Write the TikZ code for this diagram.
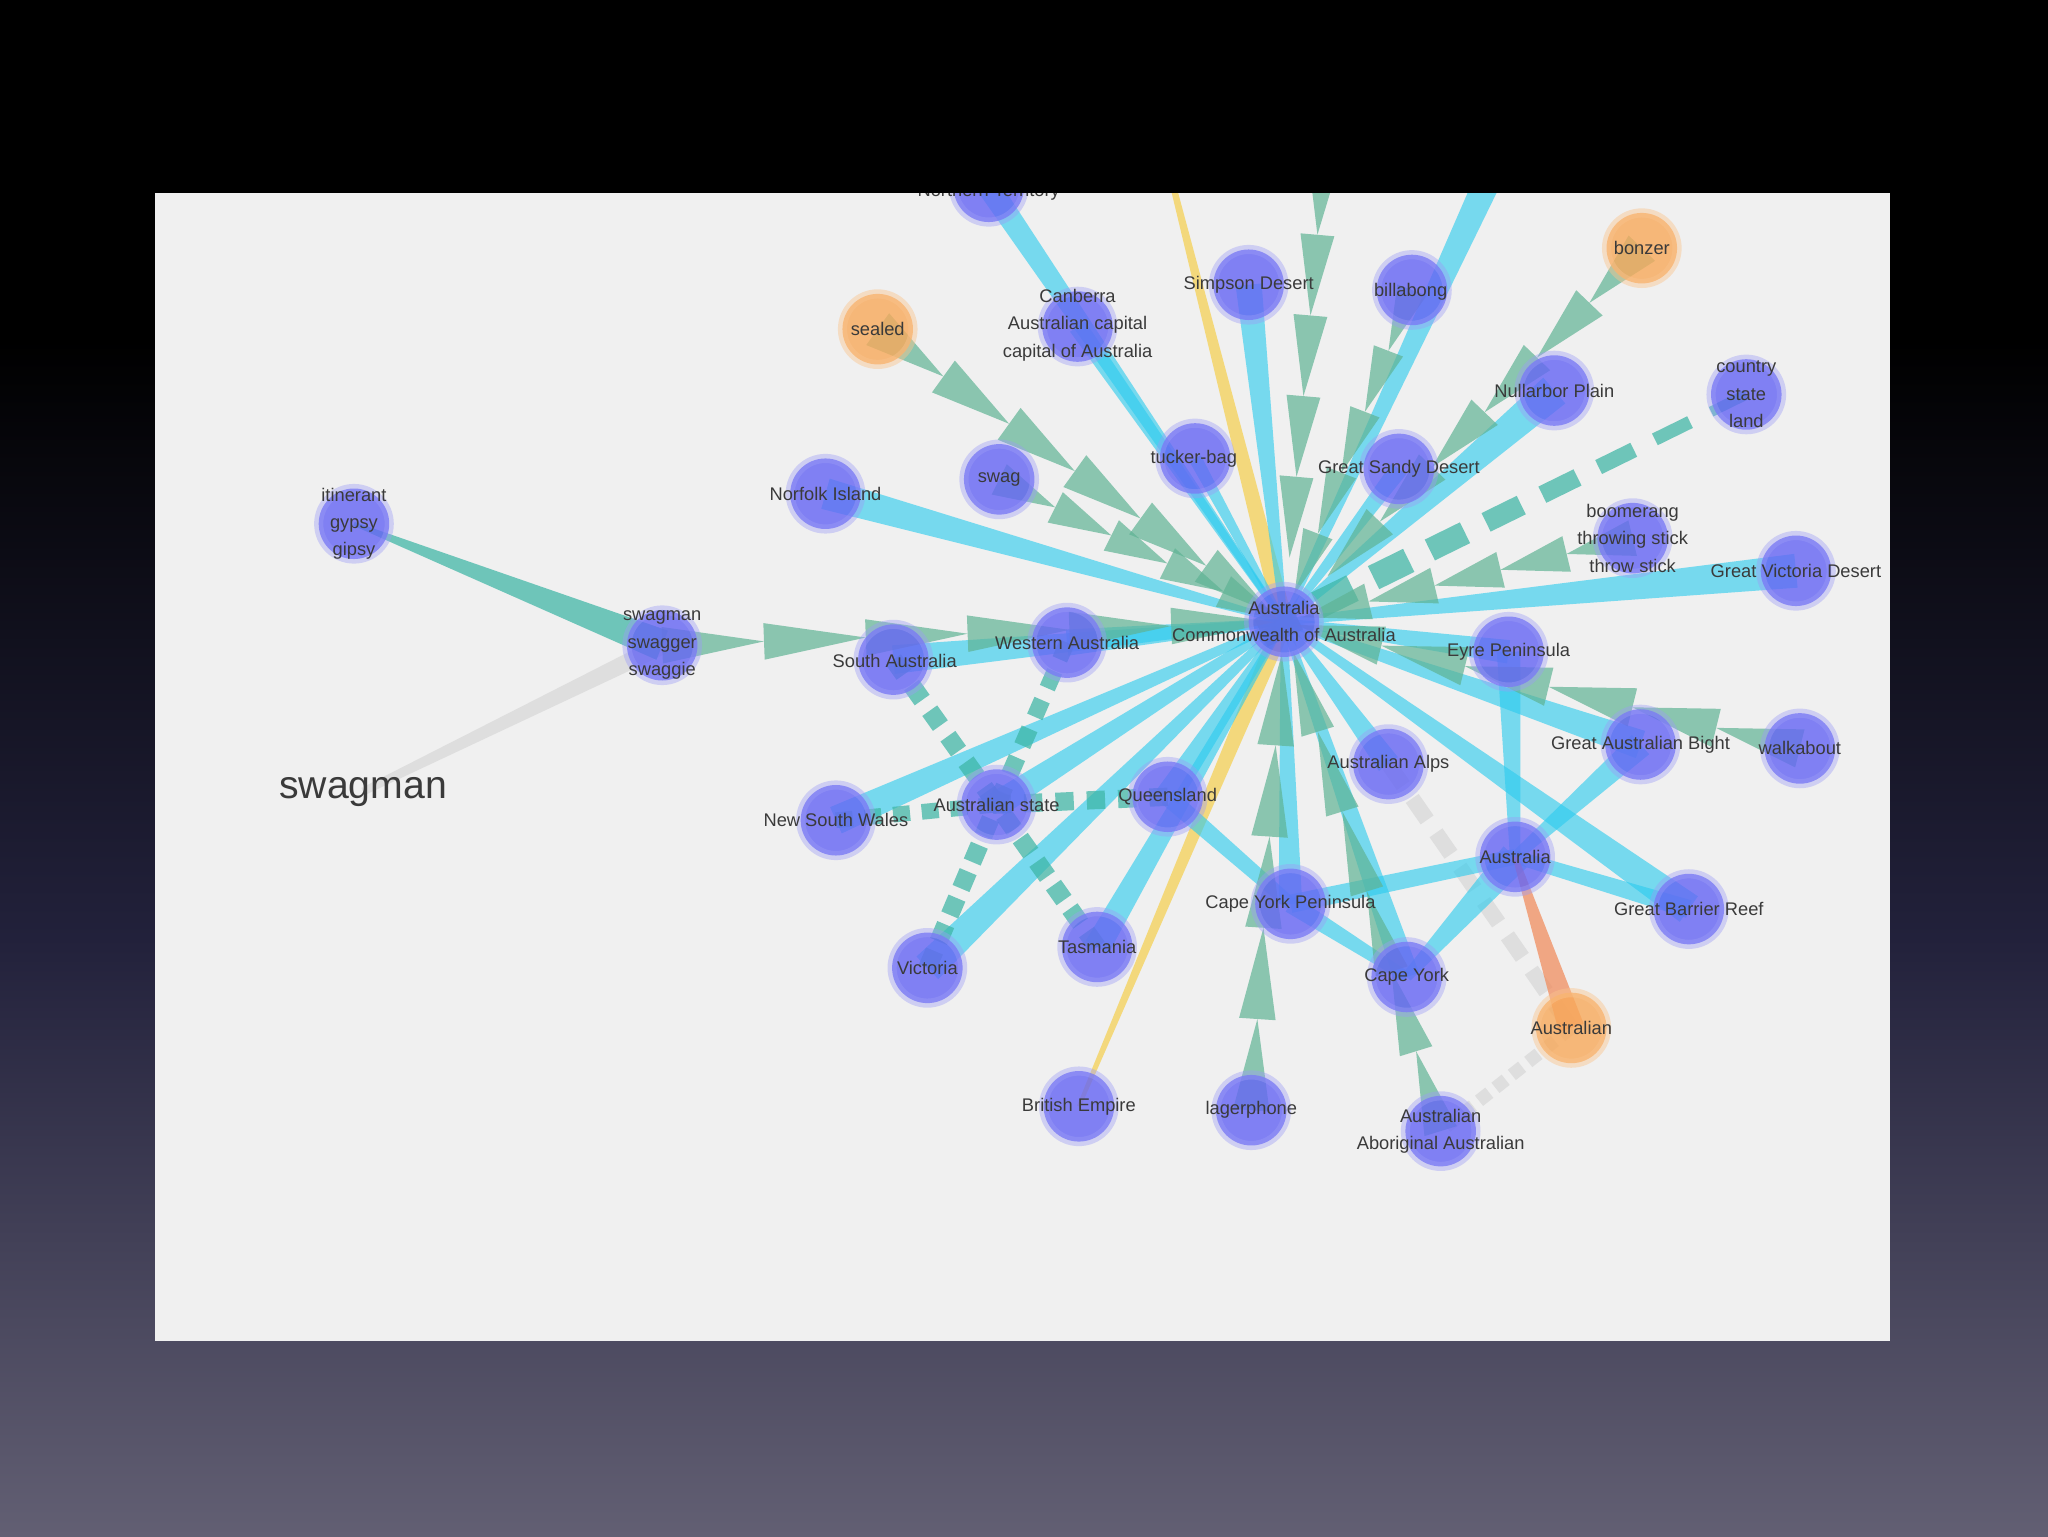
\documentclass[tikz,border=0pt]{standalone}
\usepackage{fontspec}
\setmainfont{Liberation Sans}
\usetikzlibrary{calc,decorations.markings}
\definecolor{bgmid}{HTML}{22213B}
\definecolor{bgbot}{HTML}{625F73}
\definecolor{panel}{HTML}{F0F0F0}
\definecolor{nodeblue}{HTML}{6565F4}
\definecolor{nodering}{HTML}{9C9CF7}
\definecolor{nodeorange}{HTML}{F8A95A}
\definecolor{orangering}{HTML}{FAC48E}
\definecolor{labelgray}{HTML}{3A3A3A}
\definecolor{edgecyan}{HTML}{2CCBEE}
\definecolor{edgegreen}{HTML}{5FB394}
\definecolor{edgeteal}{HTML}{3DB5A5}
\definecolor{edgeyellow}{HTML}{F5D050}
\definecolor{edgeorange}{HTML}{F18A5A}
\definecolor{edgegray}{HTML}{DEDEDE}
\pgfdeclarelayer{bg}
\pgfdeclarelayer{edges}
\pgfsetlayers{bg,edges,main}
\tikzset{
  bnode/.style={circle, minimum size=54pt, inner sep=0pt, fill=nodeblue, fill opacity=0.8, draw=nodering, draw opacity=0.4, line width=7pt},
  onode/.style={circle, minimum size=54pt, inner sep=0pt, fill=nodeorange, fill opacity=0.8, draw=orangering, draw opacity=0.45, line width=7pt},
  lbl/.style={text=labelgray, font=\fontsize{14}{21}\selectfont, align=center, inner sep=0pt},
  biglbl/.style={text=labelgray, font=\fontsize{30}{36}\selectfont, inner sep=0pt},
  cyanedge/.style={fill=edgecyan, fill opacity=0.62},
  greenarrow/.style={fill=edgegreen, fill opacity=0.7},
  dashteal/.style={fill=edgeteal, fill opacity=0.72},
  tealedge/.style={fill=edgeteal, fill opacity=0.72},
  yellowedge/.style={fill=edgeyellow, fill opacity=0.72},
  orangeedge/.style={fill=edgeorange, fill opacity=0.72},
  grayedge/.style={fill=edgegray},
  graydash/.style={fill=edgegray}
}
% tapered band: style, A, B, half width at A, half width at B
\newcommand{\taper}[5]{%
  \fill[#1] ($(#2.center)!#4pt!90:(#3.center)$) -- ($(#3.center)!#5pt!-90:(#2.center)$) -- ($(#3.center)!#5pt!90:(#2.center)$) -- ($(#2.center)!#4pt!-90:(#3.center)$) -- cycle;}
% chain of triangles pointing from A to B: A, B, half base, length
\newcommand{\arrowedge}[4]{%
  \path[decoration={markings, mark=between positions 0 and 1 step #4pt with {\fill[greenarrow] (0pt,-#3pt) -- (#4pt,0pt) -- (0pt,#3pt) -- cycle;}}, decorate] (#1.center) -- ($(#2.center)!#4pt!(#1.center)$);}
% tapered dashes: style, A, B, half A, half B, step, dash length
\newcommand{\dashedge}[7]{%
  \path[decoration={markings, mark=between positions 0 and 1 step #6pt with {%
    \pgfmathsetmacro\hw{#4+(#5-#4)*(\pgfkeysvalueof{/pgf/decoration/mark info/sequence number}-1)*#6/\pgfdecoratedpathlength}%
    \fill[#1] (0pt,-\hw pt) rectangle (#7pt,\hw pt);}}, decorate] (#2.center) -- (#3.center);}
\begin{document}
\begin{tikzpicture}[x=1pt,y=-1pt]
\useasboundingbox (0,0) rectangle (1568,1176);
\begin{pgfonlayer}{bg}
  \fill[black] (0,0) rectangle (1568,262);
  \shade[top color=black, bottom color=bgbot, middle color=bgmid] (0,260) rectangle (1568,1176);
  \fill[panel] (119,148) rectangle (1447,1027);
\end{pgfonlayer}

\begin{scope}
\clip (119,148) rectangle (1447,1027);
% nodes
\node[bnode] (nt) at (757,143) {};
\node[bnode] (canb) at (825,250) {};
\node[bnode] (simp) at (956,218) {};
\node[bnode] (billa) at (1081,222) {};
\node[onode] (bonz) at (1257,190) {};
\node[onode] (seal) at (672,252) {};
\node[bnode] (null) at (1190,299) {};
\node[bnode] (ctry) at (1337,302) {};
\node[bnode] (swag) at (765,367) {};
\node[bnode] (tuck) at (915,351) {};
\node[bnode] (gsd) at (1071,359) {};
\node[bnode] (norf) at (632,378) {};
\node[bnode] (boom) at (1250,412) {};
\node[bnode] (gvd) at (1375,437) {};
\node[bnode] (itin) at (271,401) {};
\node[bnode] (aus) at (983,476) {};
\node[bnode] (swgm) at (507,494) {};
\node[bnode] (sa) at (684,505) {};
\node[bnode] (wa) at (817,492) {};
\node[bnode] (eyre) at (1155,499) {};
\node[bnode] (gab) at (1256,570) {};
\node[bnode] (walk) at (1378,573) {};
\node[bnode] (nsw) at (640,628) {};
\node[bnode] (ast) at (763,616) {};
\node[bnode] (qld) at (894,610) {};
\node[bnode] (alps) at (1063,585) {};
\node[bnode] (aus2) at (1160,656) {};
\node[bnode] (cyp) at (988,692) {};
\node[bnode] (gbr) at (1293,696) {};
\node[bnode] (vic) at (710,741) {};
\node[bnode] (tas) at (840,725) {};
\node[bnode] (cy) at (1077,748) {};
\node[onode] (austn) at (1203,787) {};
\node[bnode] (brit) at (826,847) {};
\node[bnode] (lager) at (958,850) {};
\node[bnode] (abor) at (1103,866) {};
% labels
\node[lbl] (l-nt) at (757,146.5) {Northern Territory};
\node[lbl] (l-canb) at (825,249) {Canberra\\Australian capital\\capital of Australia};
\node[lbl] (l-simp) at (956,218) {Simpson Desert};
\node[lbl] (l-billa) at (1080,223) {billabong};
\node[lbl] (l-bonz) at (1257,190) {bonzer};
\node[lbl] (l-seal) at (672,252) {sealed};
\node[lbl] (l-null) at (1190,299) {Nullarbor Plain};
\node[lbl] (l-ctry) at (1337,302) {country\\state\\land};
\node[lbl] (l-swag) at (765,367) {swag};
\node[lbl] (l-tuck) at (914,351) {tucker-bag};
\node[lbl] (l-gsd) at (1071,359) {Great Sandy Desert};
\node[lbl] (l-norf) at (632,378) {Norfolk Island};
\node[lbl] (l-boom) at (1250,412) {boomerang\\throwing stick\\throw stick};
\node[lbl] (l-gvd) at (1375,437) {Great Victoria Desert};
\node[lbl] (l-itin) at (271,401) {itinerant\\gypsy\\gipsy};
\node[lbl] (l-aus) at (983,476) {Australia\\Commonwealth of Australia};
\node[lbl] (l-swgm) at (507,494) {swagman\\swagger\\swaggie};
\node[lbl] (l-sa) at (685,506) {South Australia};
\node[lbl] (l-wa) at (817,492) {Western Australia};
\node[lbl] (l-eyre) at (1155,499) {Eyre Peninsula};
\node[lbl] (l-gab) at (1256,570) {Great Australian Bight};
\node[lbl] (l-walk) at (1378,573) {walkabout};
\node[lbl] (l-nsw) at (640,628) {New South Wales};
\node[lbl] (l-ast) at (763,616) {Australian state};
\node[lbl] (l-qld) at (894,610) {Queensland};
\node[lbl] (l-alps) at (1063,585) {Australian Alps};
\node[lbl] (l-aus2) at (1160,656) {Australia};
\node[lbl] (l-cyp) at (988,692) {Cape York Peninsula};
\node[lbl] (l-gbr) at (1293,696) {Great Barrier Reef};
\node[lbl] (l-vic) at (710,741) {Victoria};
\node[lbl] (l-tas) at (840,725) {Tasmania};
\node[lbl] (l-cy) at (1077,748) {Cape York};
\node[lbl] (l-austn) at (1203,787) {Australian};
\node[lbl] (l-brit) at (826,847) {British Empire};
\node[lbl] (l-lager) at (958,850) {lagerphone};
\node[lbl] (l-abor) at (1103,866) {Australian\\Aboriginal Australian};
\node[biglbl] (swlbl) at (278,606) {swagman};
\end{scope}

\begin{pgfonlayer}{edges}
\begin{scope}
\clip (119,148) rectangle (1447,1027);
\coordinate (offTR) at (1152,110);
\coordinate (offT) at (1014,118);
\coordinate (offY) at (892,118);
% gray
\taper{grayedge}{swlbl}{swgm}{3}{7}
\dashedge{graydash}{alps}{austn}{6}{6}{32}{20}
\dashedge{graydash}{austn}{abor}{5}{5}{16}{10}
% yellow
\taper{yellowedge}{offY}{aus}{2}{7}
\taper{yellowedge}{brit}{aus}{1.5}{7}
% cyan
\taper{cyanedge}{nt}{aus}{9}{2}
\taper{cyanedge}{canb}{aus}{7}{2}
\taper{cyanedge}{simp}{aus}{10}{2.5}
\taper{cyanedge}{offTR}{aus}{11}{2}
\taper{cyanedge}{tuck}{aus}{5}{2}
\taper{cyanedge}{gsd}{aus}{7}{2}
\taper{cyanedge}{null}{aus}{13}{2.5}
\taper{cyanedge}{norf}{aus}{12}{2}
\taper{cyanedge}{gvd}{aus}{13}{2.5}
\taper{cyanedge}{sa}{aus}{11}{2.5}
\taper{cyanedge}{wa}{aus}{10}{2.5}
\taper{cyanedge}{eyre}{aus}{9}{2.5}
\taper{cyanedge}{gab}{aus}{11}{2.5}
\taper{cyanedge}{gbr}{aus}{12}{2.5}
\taper{cyanedge}{alps}{aus}{9}{2.5}
\taper{cyanedge}{cy}{aus}{10}{2.5}
\taper{cyanedge}{cyp}{aus}{9}{2.5}
\taper{cyanedge}{qld}{aus}{10}{2.5}
\taper{cyanedge}{tas}{aus}{10}{2.5}
\taper{cyanedge}{vic}{aus}{12}{2.5}
\taper{cyanedge}{nsw}{aus}{11}{2.5}
\taper{cyanedge}{ast}{aus}{10}{2.5}
\taper{cyanedge}{eyre}{aus2}{9}{4}
\taper{cyanedge}{gab}{aus2}{10}{4}
\taper{cyanedge}{gbr}{aus2}{7}{5}
\taper{cyanedge}{cyp}{aus2}{7}{6}
\taper{cyanedge}{aus2}{cy}{12}{4}
\taper{cyanedge}{cyp}{cy}{7}{4}
\taper{cyanedge}{qld}{cyp}{7}{5}
% dashed teal
\dashedge{dashteal}{ctry}{aus}{4}{12}{48}{30}
\dashedge{dashteal}{sa}{ast}{7}{7}{24}{14}
\dashedge{dashteal}{wa}{ast}{6}{7}{24}{14}
\dashedge{dashteal}{nsw}{ast}{6}{6}{22}{13}
\dashedge{dashteal}{qld}{ast}{7}{7}{24}{14}
\dashedge{dashteal}{vic}{ast}{7}{7}{22}{14}
\dashedge{dashteal}{tas}{ast}{7}{7}{22}{14}
% solid teal
\taper{tealedge}{itin}{swgm}{1.5}{12}
% orange
\taper{orangeedge}{austn}{aus2}{10}{2}
% green arrow chains
\arrowedge{seal}{aus}{15}{62}
\arrowedge{swag}{aus}{13}{48}
\arrowedge{offT}{aus}{13}{62}
\arrowedge{billa}{aus}{12}{50}
\arrowedge{bonz}{aus}{14}{58}
\arrowedge{boom}{aus}{14}{52}
\arrowedge{walk}{aus}{15}{66}
\arrowedge{swgm}{aus}{14}{78}
\arrowedge{lager}{aus}{14}{70}
\arrowedge{abor}{aus}{13}{64}
\end{scope}
\end{pgfonlayer}
\end{tikzpicture}
\end{document}
